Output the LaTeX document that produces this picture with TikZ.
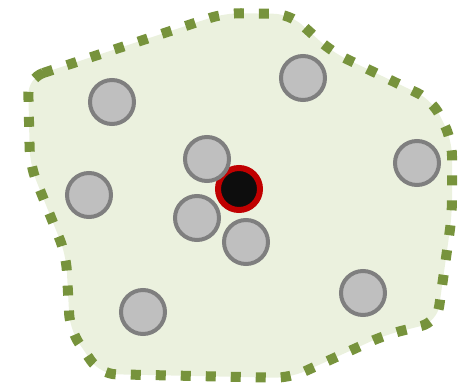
\documentclass[tikz,border=0pt]{standalone}
\usetikzlibrary{arrows.meta,calc,positioning,shapes}
\definecolor{regionfill}{HTML}{EBF1DE}
\definecolor{regionline}{HTML}{77933C}
\definecolor{pointfill}{HTML}{BFBFBF}
\definecolor{pointline}{HTML}{7F7F7F}
\definecolor{queryline}{HTML}{C00000}

\begin{document}
\begin{tikzpicture}[x=1pt,y=-1pt,
  point/.style={circle,draw=pointline,fill=pointfill,line width=4pt,minimum size=44pt,inner sep=0pt},
  query/.style={circle,draw=queryline,fill=black!95,line width=6pt,minimum size=42pt,inner sep=0pt},
  region/.style={draw=regionline,fill=regionfill,line width=10pt,dash pattern=on 10pt off 15pt,rounded corners=16pt}]
  \useasboundingbox (0,0) rectangle (458,388);
  % region around the query point
  \draw[region] (28,78) -- (225,13) -- (290,14) -- (332,52) -- (432,100) -- (452,140)
    -- (452,215) -- (437,322) -- (385,335) -- (290,378) -- (100,374) -- (70,330)
    -- (66,255) -- (30,165) -- cycle;
  \node[query] (q) at (239,189) {};
  \foreach \x/\y/\name in {112/102/a,303/78/b,417/163/c,207/159/d,89/195/e,
                           197/218/f,246/242/g,143/312/h,363/293/i}
    {\node[point] (p\name) at (\x,\y) {};}
\end{tikzpicture}
\end{document}
